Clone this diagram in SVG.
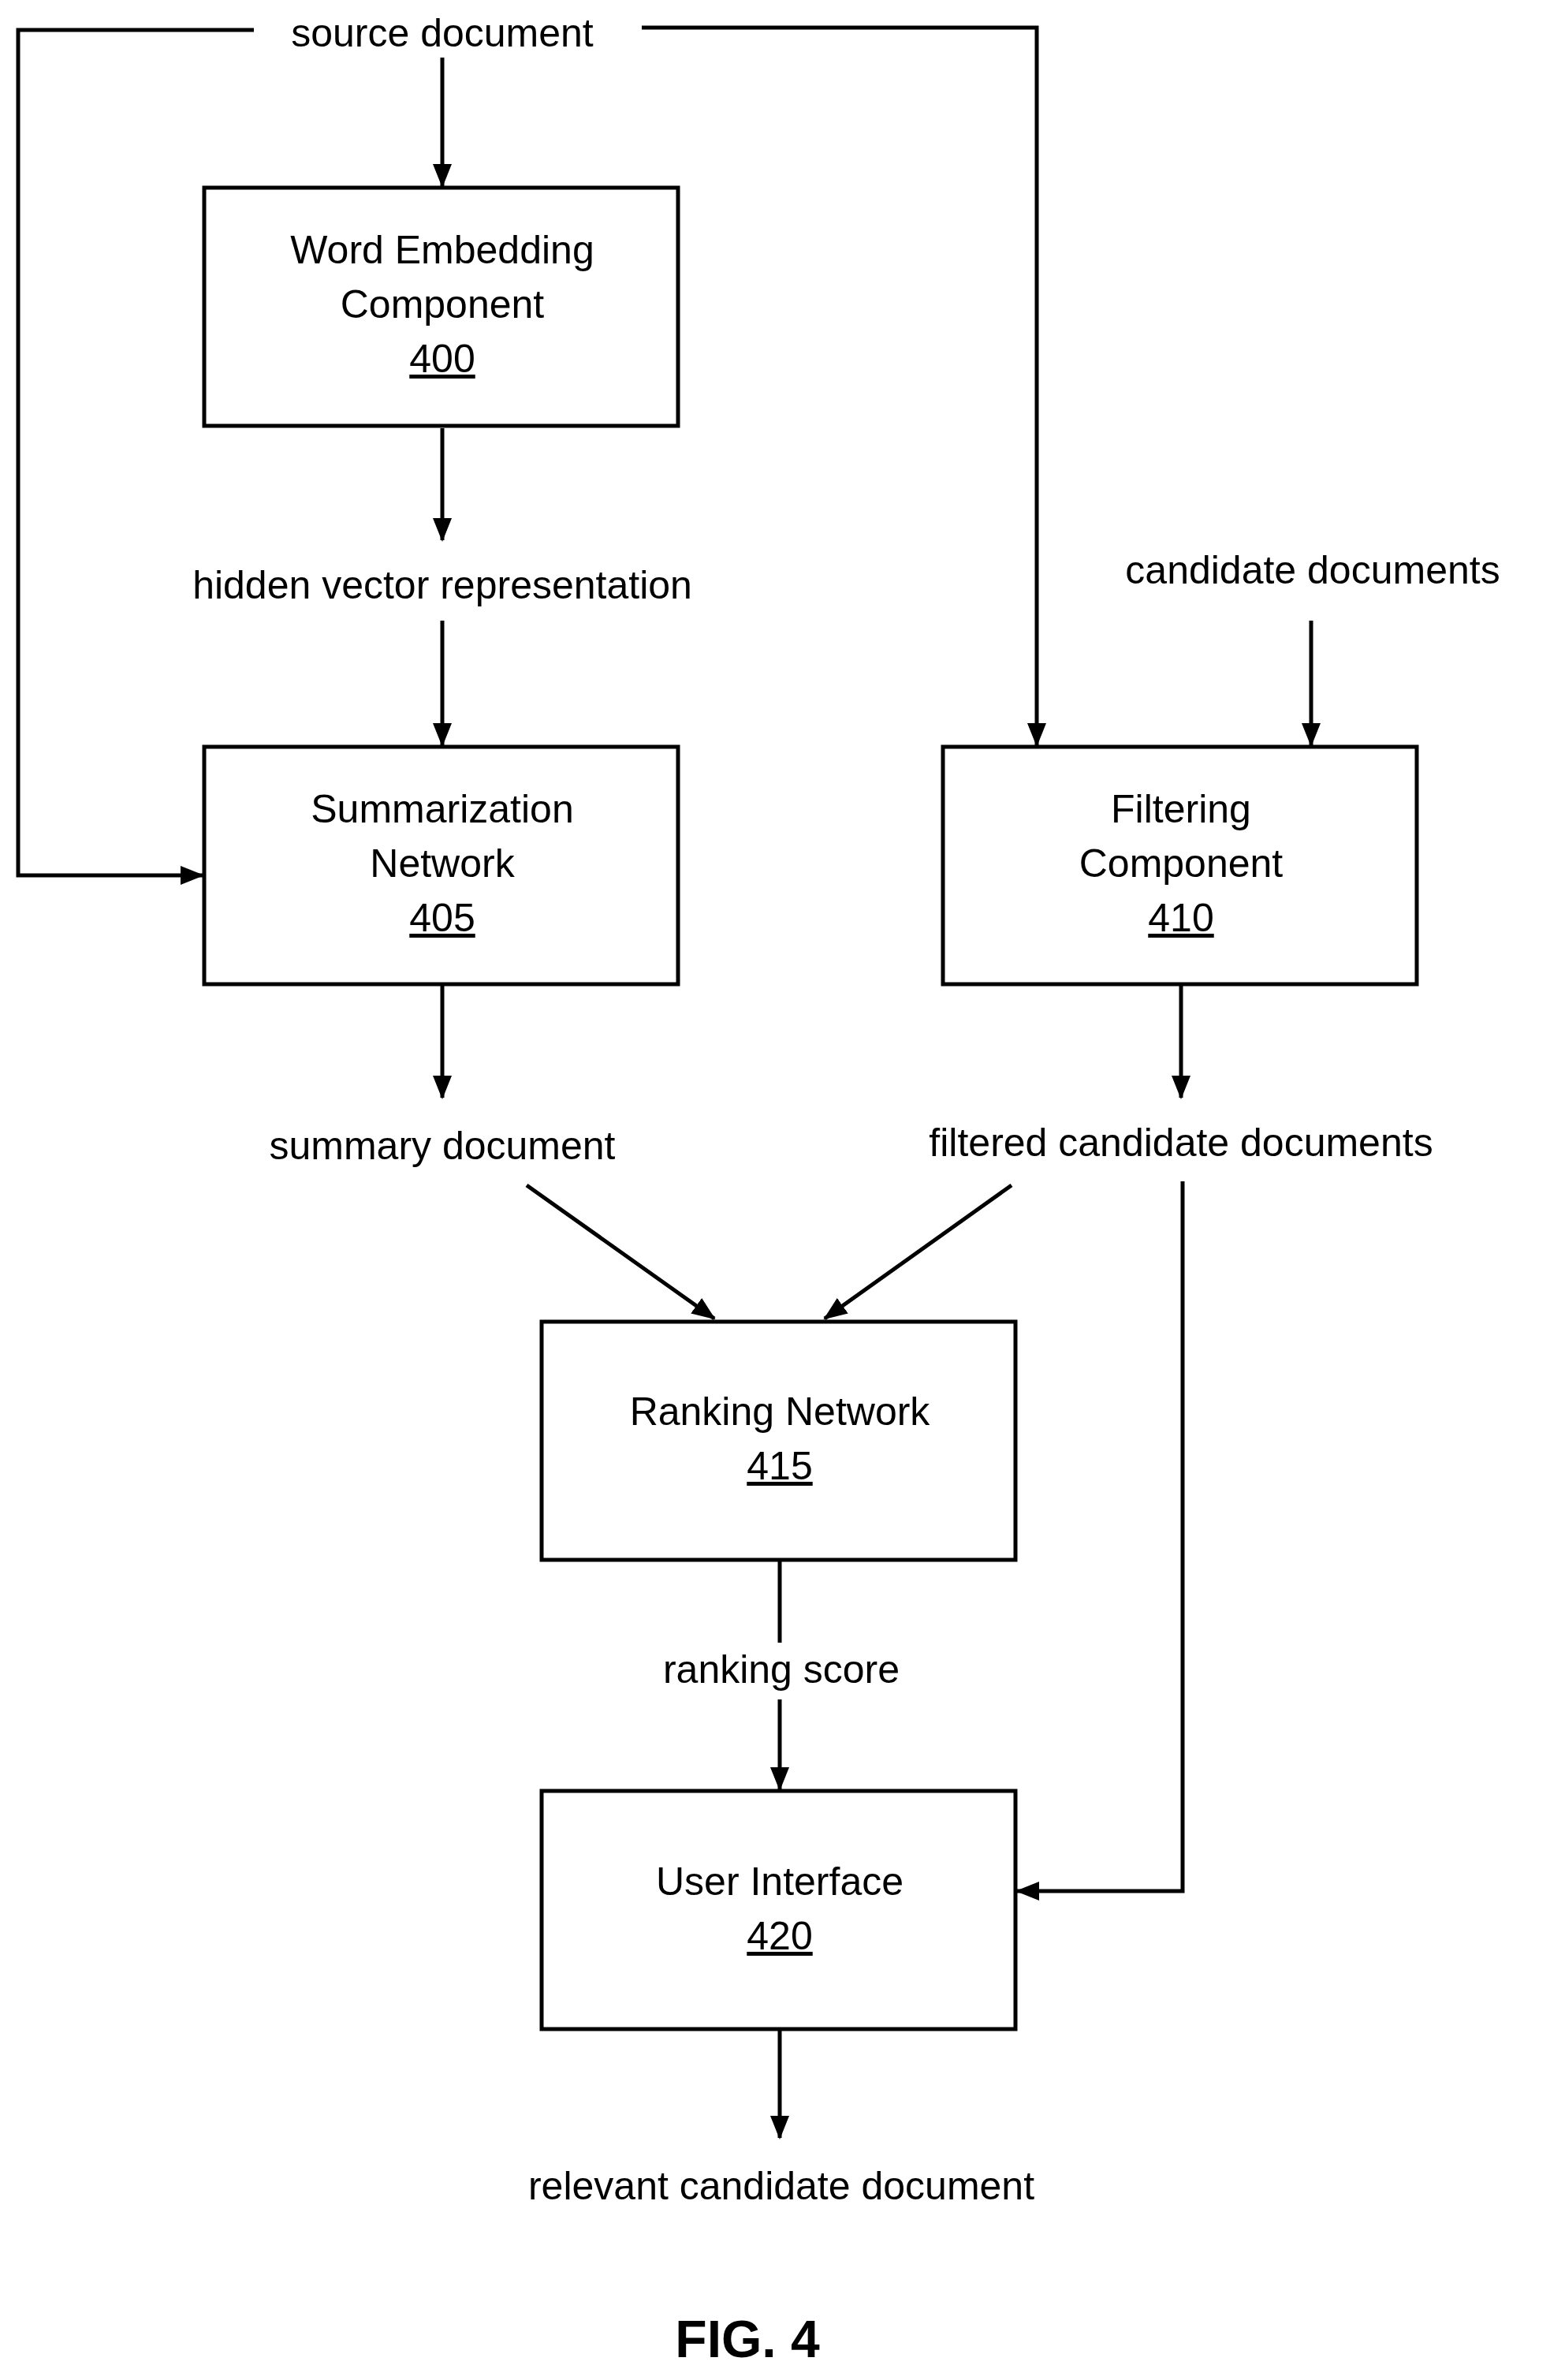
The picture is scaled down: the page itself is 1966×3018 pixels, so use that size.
<svg xmlns="http://www.w3.org/2000/svg" width="1966" height="3018" viewBox="0 0 1966 3018">
<style>
.box{fill:#fff;stroke:#000;stroke-width:5}
.t{font-family:"Liberation Sans",Arial,sans-serif;font-size:50px;text-anchor:middle;fill:#000}
.c{fill:none;stroke:#000;stroke-width:5}
.u{text-decoration:underline}
</style>
<defs>
<marker id="a" markerUnits="userSpaceOnUse" markerWidth="30" markerHeight="30" viewBox="0 0 30 30" refX="28" refY="15" orient="auto">
<path d="M0,3 L30,15 L0,27 Z" fill="#000"/>
</marker>
</defs>
<rect width="1966" height="3018" fill="#fff"/>
<g id="connectors">
<path class="c" d="M322,38 H23 V1110 H257" marker-end="url(#a)"/>
<path class="c" d="M814,35 H1315 V945" marker-end="url(#a)"/>
<path class="c" d="M561,73 V236" marker-end="url(#a)"/>
<path class="c" d="M561,543 V685" marker-end="url(#a)"/>
<path class="c" d="M561,787 V945" marker-end="url(#a)"/>
<path class="c" d="M1663,787 V945" marker-end="url(#a)"/>
<path class="c" d="M561,1248 V1392" marker-end="url(#a)"/>
<path class="c" d="M1498,1248 V1392" marker-end="url(#a)"/>
<path class="c" d="M668,1503 L906,1672" marker-end="url(#a)"/>
<path class="c" d="M1283,1503 L1046,1672" marker-end="url(#a)"/>
<path class="c" d="M1500,1498 V2398 H1290" marker-end="url(#a)"/>
<path class="c" d="M989,1978 V2083"/>
<path class="c" d="M989,2155 V2269" marker-end="url(#a)"/>
<path class="c" d="M989,2573 V2711" marker-end="url(#a)"/>
</g>
<g id="n400"><rect class="box" x="259" y="238" width="601" height="302"/>
<text class="t" x="561" y="334">Word Embedding</text><text class="t" x="561" y="403">Component</text><text class="t u" x="561" y="472">400</text></g>
<g id="n405"><rect class="box" x="259" y="947" width="601" height="301"/>
<text class="t" x="561" y="1043">Summarization</text><text class="t" x="561" y="1112">Network</text><text class="t u" x="561" y="1181">405</text></g>
<g id="n410"><rect class="box" x="1196" y="947" width="601" height="301"/>
<text class="t" x="1498" y="1043">Filtering</text><text class="t" x="1498" y="1112">Component</text><text class="t u" x="1498" y="1181">410</text></g>
<g id="n415"><rect class="box" x="687" y="1676" width="601" height="302"/>
<text class="t" x="989" y="1807">Ranking Network</text><text class="t u" x="989" y="1876">415</text></g>
<g id="n420"><rect class="box" x="687" y="2271" width="601" height="302"/>
<text class="t" x="989" y="2403">User Interface</text><text class="t u" x="989" y="2472">420</text></g>
<g id="labels">
<text class="t" x="561" y="59">source document</text>
<text class="t" x="561" y="759">hidden vector representation</text>
<text class="t" x="1665" y="740">candidate documents</text>
<text class="t" x="561" y="1470">summary document</text>
<text class="t" x="1498" y="1466">filtered candidate documents</text>
<text class="t" x="991" y="2134">ranking score</text>
<text class="t" x="991" y="2789">relevant candidate document</text>
<text class="t" x="948" y="2989" style="font-weight:bold;font-size:66px">FIG. 4</text>
</g>
</svg>
